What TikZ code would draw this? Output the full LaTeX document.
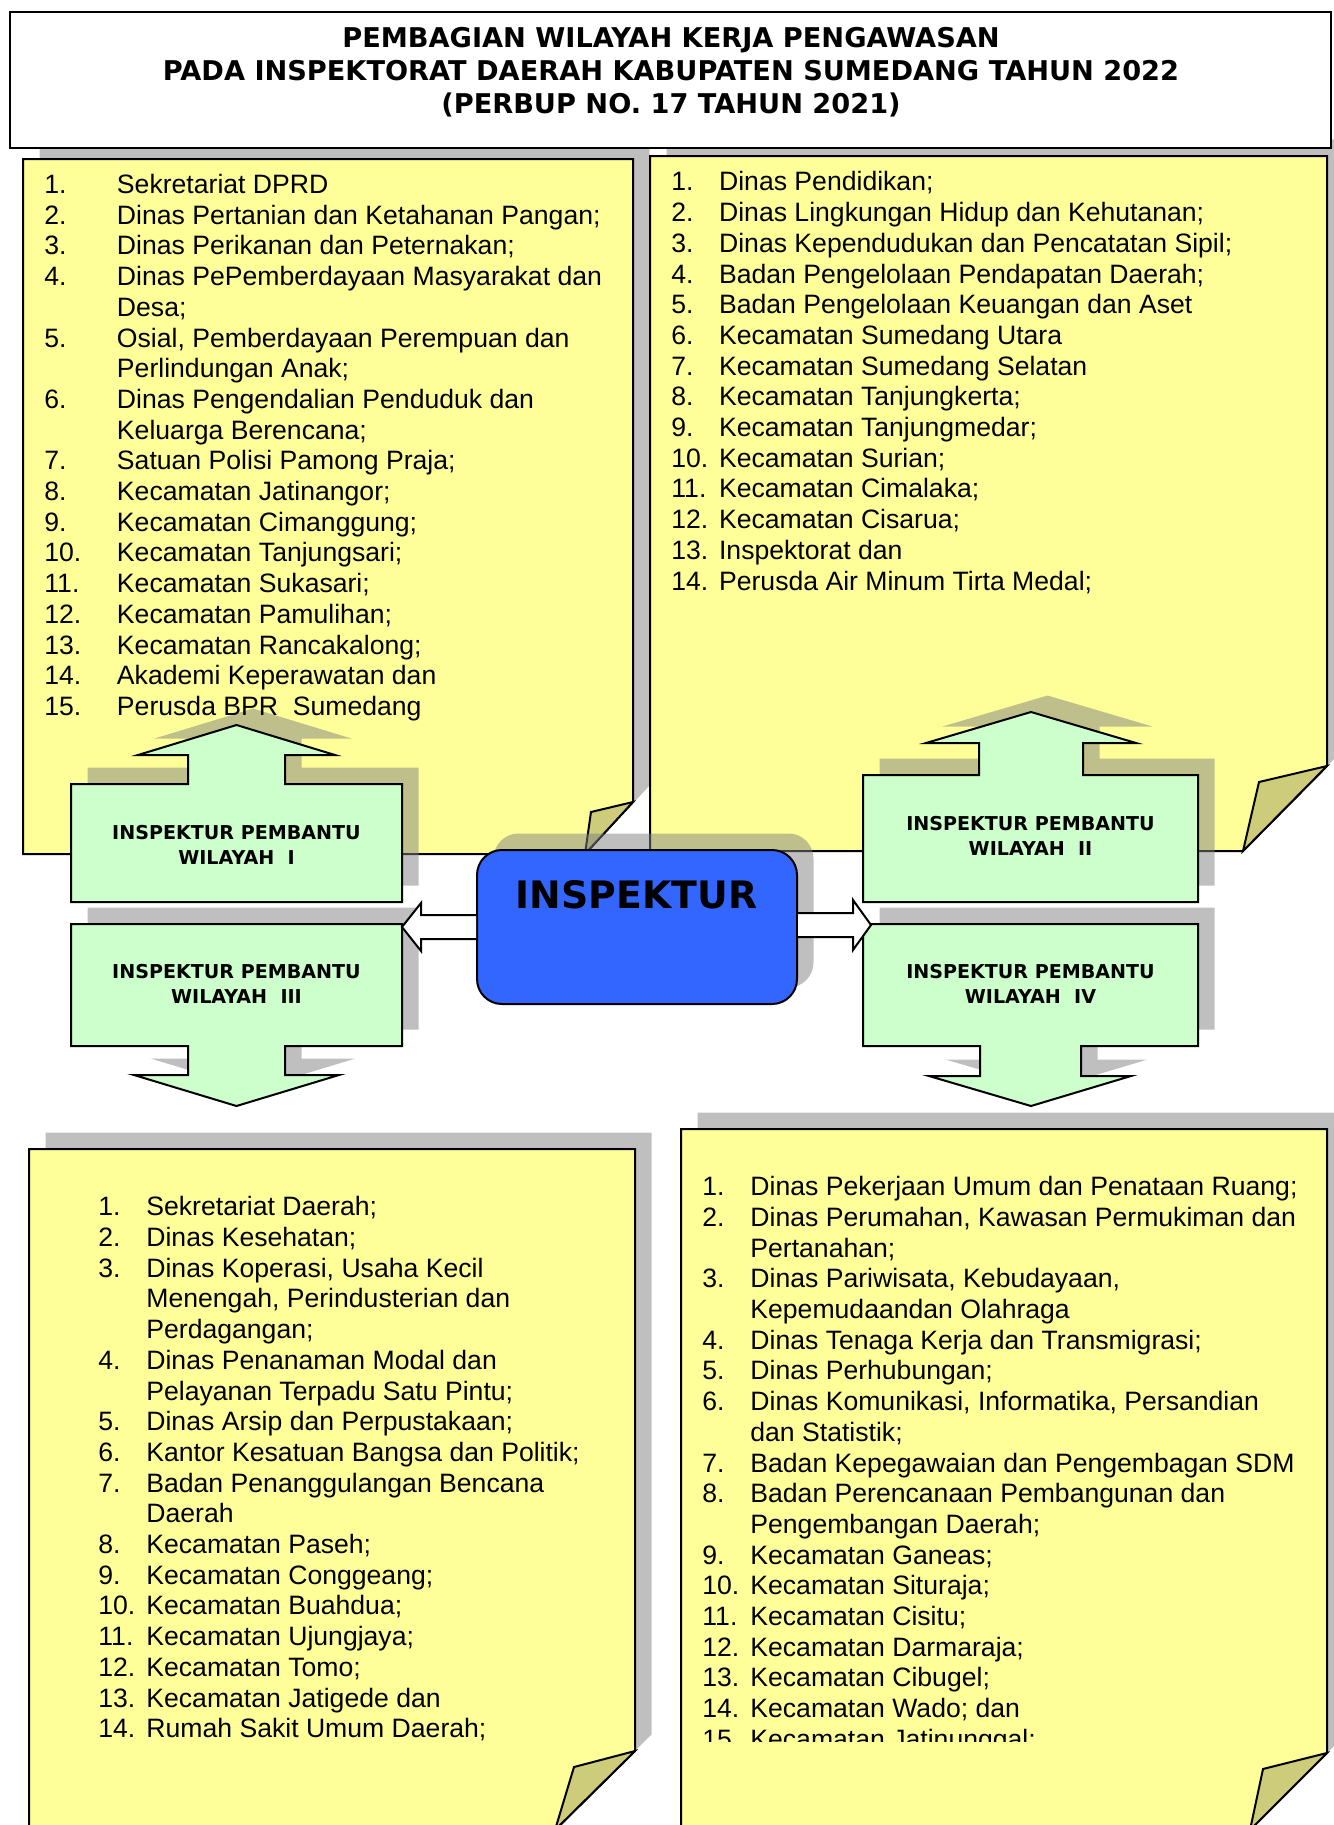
\documentclass[tikz,border=0pt]{standalone}
\usepackage{fontspec}
\setmainfont{Liberation Sans}
\newfontfamily\verdana{DejaVu Sans}
\usepackage{xcolor}
\usepackage{tikz}
\usetikzlibrary{calc}

\definecolor{memoyellow}{HTML}{FFFF99}
\definecolor{flapyellow}{HTML}{CCCC7A}
\definecolor{subgreen}{HTML}{CCFFCC}
\definecolor{chiefblue}{HTML}{3366FF}

\begin{document}
\begin{tikzpicture}[x=0.5pt, y=-0.5pt,
    shadowed/.style={preaction={fill=black!50, draw=none, opacity=0.5, transform canvas={xshift=8.25pt, yshift=8.25pt}}},
    memo/.style={draw, line width=1pt, fill=memoyellow, shadowed},
    flap/.style={draw, line width=1pt, fill=flapyellow},
    subbox/.style={draw, line width=1pt, fill=subgreen, shadowed},
    sublabel/.style={align=center, font=\verdana\bfseries\fontsize{9.55}{12.5}\selectfont},
    chief/.style={draw, line width=1pt, fill=chiefblue, rounded corners=12.5pt, minimum width=160pt, minimum height=77pt, inner sep=0pt, shadowed},
    items/.style={anchor=base west, inner sep=0pt, font=\fontsize{13.3}{15.35}\selectfont},
    link/.style={draw, line width=1pt, fill=white}]
    \useasboundingbox (0,0) rectangle (1333,1825);

    % sticky notes
    \draw[memo] (23,159) -- (633,159) -- (633,802) -- (585,854) -- (23,854) -- cycle;
    \draw[flap] (633,802) -- (591,812) -- (585,854) -- cycle;
    \draw[memo] (650,156) -- (1327,156) -- (1327,766) -- (1243,851) -- (650,851) -- cycle;
    \draw[flap] (1327,766) -- (1259,782) -- (1243,851) -- cycle;
    \draw[memo] (29,1149) -- (635,1149) -- (635,1751) -- (555,1830) -- (29,1830) -- cycle;
    \draw[flap] (635,1751) -- (574,1767) -- (555,1830) -- cycle;
    \draw[memo] (681,1129) -- (1327,1129) -- (1327,1753) -- (1250,1830) -- (681,1830) -- cycle;
    \draw[flap] (1327,1753) -- (1263,1769) -- (1250,1830) -- cycle;

    % title
    \draw[line width=1pt, fill=white] (10,12) rectangle (1331,148);
    \node[align=center, font=\verdana\bfseries\fontsize{13.6}{16.5}\selectfont] (judul) at (671,72.5)
        {PEMBAGIAN WILAYAH KERJA PENGAWASAN\\PADA INSPEKTORAT DAERAH KABUPATEN SUMEDANG TAHUN 2022\\(PERBUP NO. 17 TAHUN 2021)};

    % inspektur pembantu
    \draw[subbox] (71,784) -- (188,784) -- (188,755) -- (138,755) -- (236.5,725) -- (335,755) -- (285,755) -- (285,784) -- (402,784) -- (402,902) -- (71,902) -- cycle;
    \draw[subbox] (863,775) -- (979,775) -- (979,743) -- (926,743) -- (1031,712) -- (1136,743) -- (1083,743) -- (1083,775) -- (1198,775) -- (1198,902) -- (863,902) -- cycle;
    \draw[subbox] (71,924) -- (402,924) -- (402,1046) -- (285,1046) -- (285,1075) -- (339,1075) -- (236.5,1106) -- (134,1075) -- (188,1075) -- (188,1046) -- (71,1046) -- cycle;
    \draw[subbox] (863,924) -- (1198,924) -- (1198,1046) -- (1081,1046) -- (1081,1076) -- (1131,1076) -- (1031,1106) -- (929,1076) -- (980,1076) -- (980,1046) -- (863,1046) -- cycle;
    \node[sublabel] (w1) at (236.5,844.5) {INSPEKTUR PEMBANTU\\WILAYAH\ \ I};
    \node[sublabel] (w2) at (1030.5,835.5) {INSPEKTUR PEMBANTU\\WILAYAH\ \ II};
    \node[sublabel] (w3) at (236.5,984) {INSPEKTUR PEMBANTU\\WILAYAH\ \ III};
    \node[sublabel] (w4) at (1030.5,984) {INSPEKTUR PEMBANTU\\WILAYAH\ \ IV};

    % inspektur
    \node[chief] (insp) at (637,927) {};
    \node[font=\verdana\bfseries\fontsize{18.9}{22}\selectfont] (insplabel) at (636.5,894.5) {INSPEKTUR};
    \coordinate (kiri) at (402,927);
    \coordinate (kanan) at (871,925);
    \filldraw[link] ($(insp.west)+(0,-12)$) -- (421,915) -- (421,903) -- (kiri) -- (421,951) -- (421,939) -- ($(insp.west)+(0,12)$);
    \filldraw[link] ($(insp.east)+(0,-14)$) -- (853,913) -- (853,900) -- (kanan) -- (853,950) -- (853,937) -- ($(insp.east)+(0,10)$);

    % lists
    \node[items] (daftar1) at (44,193.5) {\begin{tabular}[t]{@{}p{36.3pt}@{}l@{}}
        1. & Sekretariat DPRD\\
        2. & Dinas Pertanian dan Ketahanan Pangan;\\
        3. & Dinas Perikanan dan Peternakan;\\
        4. & Dinas PePemberdayaan Masyarakat dan\\
           & Desa;\\
        5. & Osial, Pemberdayaan Perempuan dan\\
           & Perlindungan Anak;\\
        6. & Dinas Pengendalian Penduduk dan\\
           & Keluarga Berencana;\\
        7. & Satuan Polisi Pamong Praja;\\
        8. & Kecamatan Jatinangor;\\
        9. & Kecamatan Cimanggung;\\
        10. & Kecamatan Tanjungsari;\\
        11. & Kecamatan Sukasari;\\
        12. & Kecamatan Pamulihan;\\
        13. & Kecamatan Rancakalong;\\
        14. & Akademi Keperawatan dan\\
        15. & Perusda BPR\ \ Sumedang
    \end{tabular}};
    \node[items] (daftar2) at (671,191) {\begin{tabular}[t]{@{}p{23.85pt}@{}l@{}}
        1. & Dinas Pendidikan;\\
        2. & Dinas Lingkungan Hidup dan Kehutanan;\\
        3. & Dinas Kependudukan dan Pencatatan Sipil;\\
        4. & Badan Pengelolaan Pendapatan Daerah;\\
        5. & Badan Pengelolaan Keuangan dan Aset\\
        6. & Kecamatan Sumedang Utara\\
        7. & Kecamatan Sumedang Selatan\\
        8. & Kecamatan Tanjungkerta;\\
        9. & Kecamatan Tanjungmedar;\\
        10. & Kecamatan Surian;\\
        11. & Kecamatan Cimalaka;\\
        12. & Kecamatan Cisarua;\\
        13. & Inspektorat dan\\
        14. & Perusda Air Minum Tirta Medal;
    \end{tabular}};
    \node[items] (daftar3) at (98,1215.8) {\begin{tabular}[t]{@{}p{24pt}@{}l@{}}
        1. & Sekretariat Daerah;\\
        2. & Dinas Kesehatan;\\
        3. & Dinas Koperasi, Usaha Kecil\\
           & Menengah, Perindusterian dan\\
           & Perdagangan;\\
        4. & Dinas Penanaman Modal dan\\
           & Pelayanan Terpadu Satu Pintu;\\
        5. & Dinas Arsip dan Perpustakaan;\\
        6. & Kantor Kesatuan Bangsa dan Politik;\\
        7. & Badan Penanggulangan Bencana\\
           & Daerah\\
        8. & Kecamatan Paseh;\\
        9. & Kecamatan Conggeang;\\
        10. & Kecamatan Buahdua;\\
        11. & Kecamatan Ujungjaya;\\
        12. & Kecamatan Tomo;\\
        13. & Kecamatan Jatigede dan\\
        14. & Rumah Sakit Umum Daerah;
    \end{tabular}};
    \begin{scope}
        \clip (681,1129) rectangle (1327,1741);
        \node[items] (daftar4) at (702,1195.7) {\begin{tabular}[t]{@{}p{24pt}@{}l@{}}
            1. & Dinas Pekerjaan Umum dan Penataan Ruang;\\
            2. & Dinas Perumahan, Kawasan Permukiman dan\\
               & Pertanahan;\\
            3. & Dinas Pariwisata, Kebudayaan,\\
               & Kepemudaandan Olahraga\\
            4. & Dinas Tenaga Kerja dan Transmigrasi;\\
            5. & Dinas Perhubungan;\\
            6. & Dinas Komunikasi, Informatika, Persandian\\
               & dan Statistik;\\
            7. & Badan Kepegawaian dan Pengembagan SDM\\
            8. & Badan Perencanaan Pembangunan dan\\
               & Pengembangan Daerah;\\
            9. & Kecamatan Ganeas;\\
            10. & Kecamatan Situraja;\\
            11. & Kecamatan Cisitu;\\
            12. & Kecamatan Darmaraja;\\
            13. & Kecamatan Cibugel;\\
            14. & Kecamatan Wado; dan\\
            15. & Kecamatan Jatinunggal;
        \end{tabular}};
    \end{scope}
\end{tikzpicture}
\end{document}
